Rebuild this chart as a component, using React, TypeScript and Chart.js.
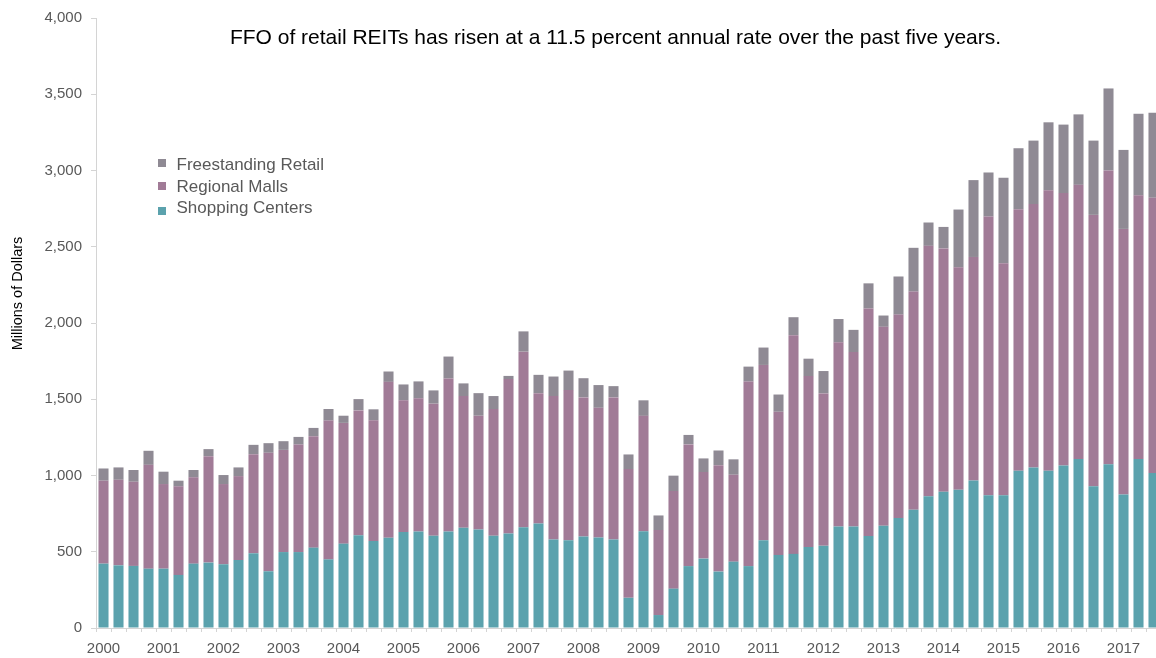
import React, { useEffect, useRef } from "react";
import { Chart, registerables } from "chart.js";

Chart.register(...registerables);

const years = [
  "2000", "2001", "2002", "2003", "2004", "2005", "2006", "2007", "2008",
  "2009", "2010", "2011", "2012", "2013", "2014", "2015", "2016", "2017",
];
const quarterNames = ["Q1", "Q2", "Q3", "Q4"];
const categories = years
  .flatMap((y) => quarterNames.map((q) => `${y} ${q}`))
  .slice(0, 71);

const shoppingCenters = [
  422, 411, 407, 389, 389, 348, 422, 429, 418, 446, 490, 372, 498, 498, 527, 450,
  553, 609, 570, 592, 629, 633, 605, 633, 657, 646, 605, 620, 661, 685, 581, 576,
  600, 594, 581, 198, 635, 85, 258, 406, 455, 370, 435, 406, 575, 479, 486, 531,
  539, 666, 666, 604, 671, 722, 775, 864, 893, 907, 967, 871, 871, 1031, 1053, 1031,
  1065, 1108, 929, 1074, 876, 1108, 1017,
];
const regionalMalls = [
  544, 561, 552, 681, 555, 581, 566, 698, 526, 550, 650, 777, 670, 705, 731, 910,
  792, 818, 792, 1022, 864, 873, 866, 1003, 864, 746, 831, 1012, 1151, 855, 940, 984,
  912, 850, 931, 844, 756, 557, 640, 798, 568, 698, 570, 1210, 1150, 939, 1434, 1121,
  999, 1207, 1144, 1491, 1304, 1333, 1431, 1642, 1596, 1458, 1466, 1827, 1520, 1715, 1727, 1839,
  1787, 1798, 1780, 1926, 1741, 1729, 1805,
];
const freestandingRetail = [
  80, 81, 77, 92, 81, 37, 48, 46, 59, 57, 61, 63, 57, 50, 54, 76,
  47, 74, 72, 68, 104, 111, 87, 144, 83, 148, 85, 21, 133, 120, 128, 128,
  126, 149, 74, 96, 102, 96, 101, 62, 89, 96, 101, 98, 114, 113, 118, 114,
  147, 153, 145, 165, 74, 250, 287, 153, 141, 379, 504, 289, 561, 400, 416, 446,
  449, 462, 487, 538, 518, 535, 557,
];

const seriesNames = ["Shopping Centers", "Regional Malls", "Freestanding Retail"];
const seriesColors = ["#5ba2ad", "#a17b97", "#8f8a94"];

const titleText =
  "FFO of retail REITs has risen at a 11.5 percent annual rate over the past five years.";
const yAxisTitle = "Millions of Dollars";

const FONT = "'Liberation Sans', Arial, sans-serif";

const overlayPlugin = {
  id: "overlayText",
  afterDraw(chart: any) {
    const ctx = chart.ctx as CanvasRenderingContext2D;
    ctx.save();
    // Title
    ctx.fillStyle = "#000000";
    ctx.font = `21px ${FONT}`;
    ctx.textAlign = "center";
    ctx.textBaseline = "alphabetic";
    ctx.fillText(titleText, 615.5, 43.5);

    // Y axis title
    ctx.save();
    ctx.translate(22, 293.5);
    ctx.rotate(-Math.PI / 2);
    ctx.font = `14.5px ${FONT}`;
    ctx.textAlign = "center";
    ctx.textBaseline = "alphabetic";
    ctx.fillStyle = "#000000";
    ctx.fillText(yAxisTitle, 0, 0);
    ctx.restore();

    // Legend (top to bottom: Freestanding, Regional, Shopping)
    const rows = [
      { name: seriesNames[2], color: seriesColors[2], box: 159, base: 170 },
      { name: seriesNames[1], color: seriesColors[1], box: 182, base: 191.7 },
      { name: seriesNames[0], color: seriesColors[0], box: 207, base: 213.3 },
    ];
    ctx.font = `17px ${FONT}`;
    ctx.textAlign = "left";
    for (const r of rows) {
      ctx.fillStyle = r.color;
      ctx.fillRect(158, r.box, 8, 8);
      ctx.fillStyle = "#595959";
      ctx.fillText(r.name, 176.5, r.base);
    }
    ctx.restore();
  },
};

export default function App() {
  const canvasRef = useRef<HTMLCanvasElement | null>(null);

  useEffect(() => {
    if (!canvasRef.current) return;
    const axisColor = "#d4d4d4";
    const chart = new Chart(canvasRef.current, {
      type: "bar",
      data: {
        labels: categories,
        datasets: [
          { label: seriesNames[0], data: shoppingCenters, backgroundColor: seriesColors[0] },
          { label: seriesNames[1], data: regionalMalls, backgroundColor: seriesColors[1] },
          { label: seriesNames[2], data: freestandingRetail, backgroundColor: seriesColors[2] },
        ],
      },
      options: {
        responsive: false,
        animation: false,
        layout: { padding: { left: 0, right: 1, top: 15, bottom: 0 } },
        datasets: {
          bar: { categoryPercentage: 1, barPercentage: 0.67, borderWidth: 0 },
        },
        plugins: {
          legend: { display: false },
          title: { display: false },
          tooltip: { enabled: false },
        },
        scales: {
          x: {
            stacked: true,
            offset: true,
            afterFit: (scale: any) => {
              scale.height = 30;
            },
            grid: {
              offset: true,
              drawOnChartArea: false,
              drawTicks: true,
              tickLength: 4,
              color: axisColor,
            },
            border: { display: true, color: axisColor },
            ticks: {
              autoSkip: false,
              maxRotation: 0,
              minRotation: 0,
              padding: 8,
              color: "#595959",
              font: { family: FONT, size: 15 },
              callback: (_v: any, index: number) =>
                index % 4 === 0 ? years[index / 4] : "",
            },
          },
          y: {
            stacked: true,
            min: 0,
            max: 4000,
            afterFit: (scale: any) => {
              scale.width = 96;
            },
            grid: {
              drawOnChartArea: false,
              drawTicks: true,
              tickLength: 5,
              color: axisColor,
            },
            border: { display: true, color: axisColor },
            ticks: {
              stepSize: 500,
              padding: 9,
              color: "#595959",
              font: { family: FONT, size: 15 },
              callback: (v: any) => Number(v).toLocaleString("en-US"),
            },
          },
        },
      },
      plugins: [overlayPlugin],
    });
    return () => chart.destroy();
  }, []);

  return (
    <div
      style={{
        position: "absolute",
        left: 0,
        top: 0,
        width: 1156,
        height: 658,
        overflow: "hidden",
        background: "#ffffff",
      }}
    >
      <canvas
        ref={canvasRef}
        width={1162}
        height={658}
        style={{ display: "block", width: 1162, height: 658 }}
      />
    </div>
  );
}
